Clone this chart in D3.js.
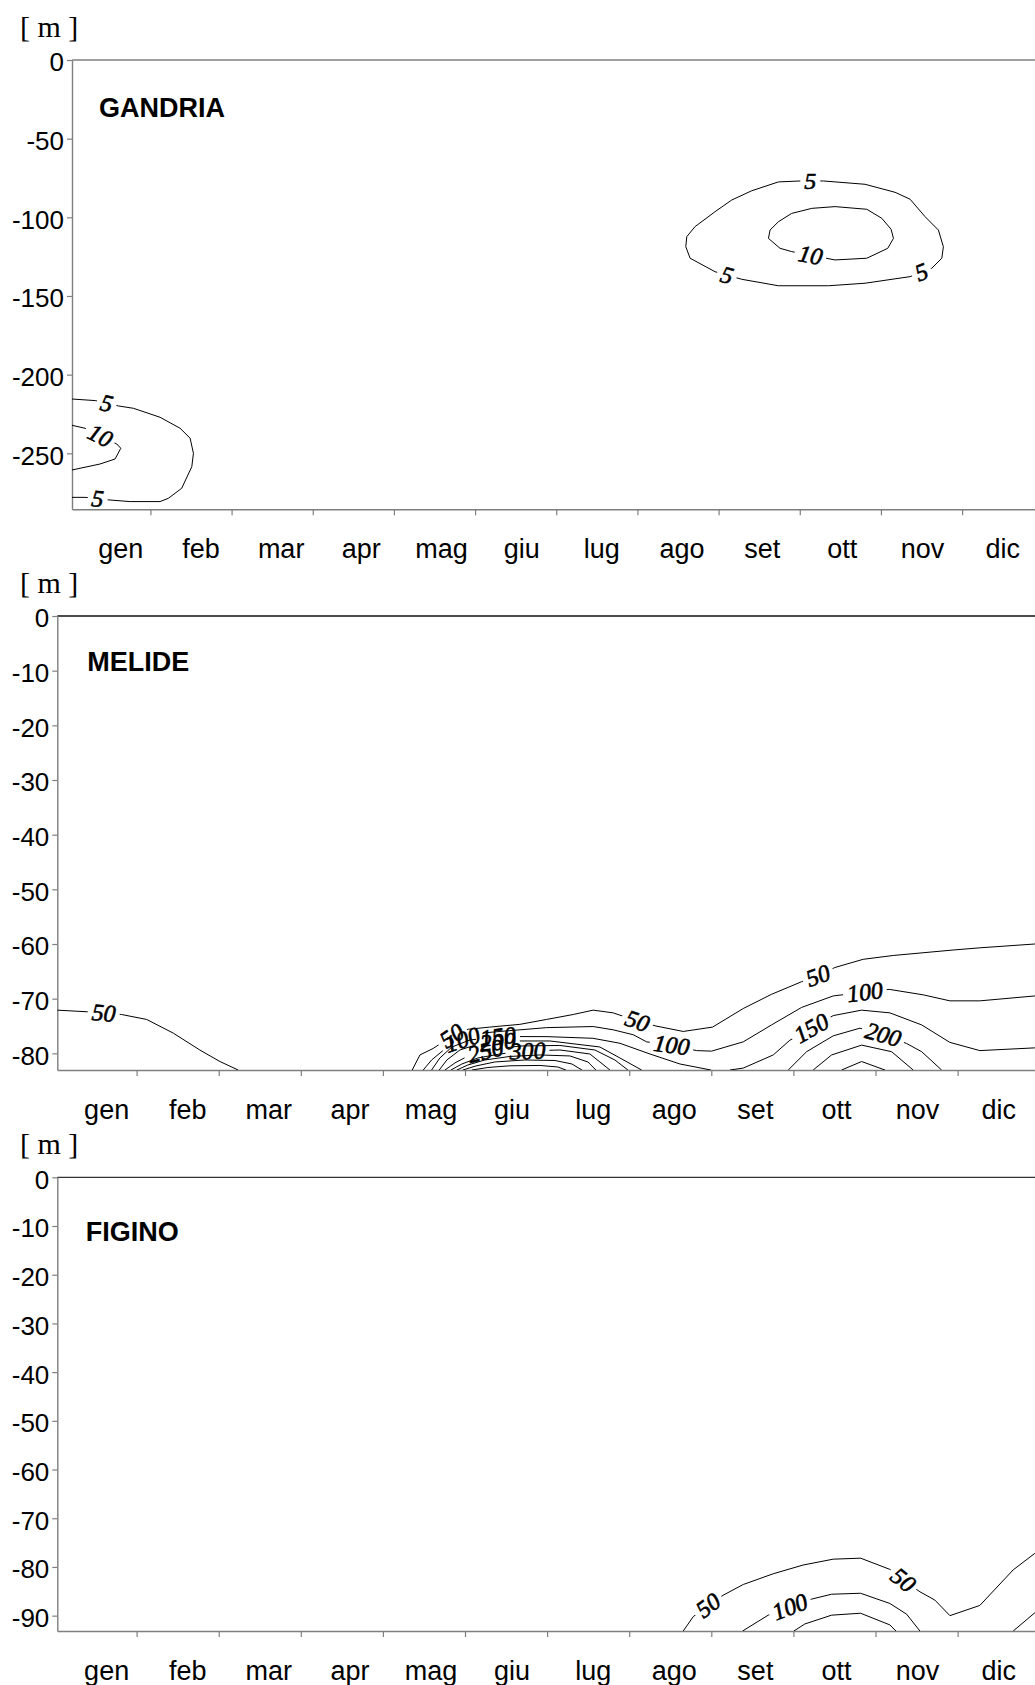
<!DOCTYPE html>
<html>
<head>
<meta charset="utf-8">
<script src="https://cdn.jsdelivr.net/npm/d3@7"></script>
<style>
  body { margin: 0; background: #fff; }
  svg { display: block; }
</style>
</head>
<body>
<svg id="chart" width="1035" height="1685"></svg>
<script>
// ---- data -------------------------------------------------------------
// Month labels of the time axis (month 0 = 1 January, 12 = 31 December)
const months = ["gen", "feb", "mar", "apr", "mag", "giu", "lug", "ago", "set", "ott", "nov", "dic"];
const monthBoundaries = [1, 2, 3, 4, 5, 6, 7, 8, 9, 10, 11];

// Depth ticks [m] of each station
const gandriaTicks = [0, -50, -100, -150, -200, -250];
const melideTicks = [0, -10, -20, -30, -40, -50, -60, -70, -80];
const figinoTicks = [0, -10, -20, -30, -40, -50, -60, -70, -80, -90];

// Bottom depth [m] at each station
const gandriaDepth = -285.6;
const melideDepth = -83.05;
const figinoDepth = -93.15;

// Isolines: level, vertices [month, depth], label anchors [month, depth]
const gandriaLines = [
  { level: 5,
    points: [[7.596,-118.7],[7.608,-112.3],[7.710,-105.9],[7.957,-96.4],[8.162,-89.0],[8.409,-83.1],[8.737,-77.5],[9.004,-76.9],[9.291,-76.9],[9.804,-79.0],[10.174,-84.1],[10.359,-88.5],[10.544,-99.6],[10.708,-108.1],[10.769,-118.7],[10.750,-126.0],[10.626,-132.4],[10.359,-137.7],[9.804,-141.9],[9.353,-143.5],[8.737,-143.5],[8.286,-139.4],[7.957,-134.6],[7.649,-126.0],[7.596,-118.7]],
    labels: [[9.13,-77.0],[8.10,-137.0],[10.50,-135.0]] },
  { level: 10,
    points: [[8.614,-113.4],[8.634,-108.1],[8.737,-102.8],[8.901,-97.5],[9.148,-94.3],[9.435,-93.2],[9.826,-94.9],[10.010,-100.6],[10.125,-107.6],[10.154,-113.4],[10.084,-119.7],[9.826,-126.0],[9.435,-127.1],[8.901,-121.8],[8.757,-119.7],[8.614,-113.4]],
    labels: [[9.13,-124.5]] },
  { level: 5,
    points: [[0.034,-215.5],[0.32,-216.5],[0.606,-219.9],[0.791,-221.4],[1.119,-227.1],[1.366,-234.1],[1.489,-240.4],[1.530,-250.0],[1.510,-258.5],[1.386,-272.2],[1.222,-278.6],[1.119,-280.7],[0.750,-280.7],[0.503,-279.7],[0.195,-278.0],[0.034,-278.0]],
    labels: [[0.46,-218.5],[0.35,-279.0]] },
  { level: 10,
    points: [[0.034,-232.2],[0.195,-234.1],[0.586,-244.1],[0.635,-246.8],[0.565,-253.6],[0.380,-256.8],[0.034,-260.6]],
    labels: [[0.38,-239.0]] }
];

const melideLines = [
  { level: 50,
    points: [[0.033,-72.1],[0.398,-72.4],[0.817,-72.9],[1.122,-73.8],[1.446,-76.3],[1.771,-79.4],[2.015,-81.5],[2.237,-83.05]],
    labels: [[0.60,-72.6]] },
  { level: 50,
    points: [[4.357,-83.05],[4.451,-80.3],[4.613,-79.1],[4.84,-76.8],[5.039,-75.6],[5.303,-75.2],[5.668,-74.7],[5.994,-73.8],[6.318,-72.9],[6.561,-72.1],[6.805,-72.6],[7.100,-74.1],[7.325,-75.0],[7.658,-76.0],[8.016,-75.2],[8.389,-71.8],[8.734,-69.2],[9.100,-66.9],[9.302,-65.8],[9.505,-64.3],[9.850,-62.8],[10.216,-62.1],[10.946,-61.1],[11.271,-60.7],[11.941,-60.0],[12,-59.9]],
    labels: [[4.84,-76.8],[7.10,-74.1],[9.30,-65.8]] },
  { level: 100,
    points: [[4.491,-83.05],[4.593,-81.22],[4.755,-79.2],[4.95,-77.6],[5.218,-76.28],[5.425,-76.0],[5.994,-75.3],[6.561,-75.1],[6.805,-75.7],[7.049,-76.6],[7.212,-77.9],[7.516,-78.5],[7.821,-79.5],[8.003,-79.6],[8.389,-77.9],[8.734,-74.8],[9.100,-71.6],[9.485,-69.5],[9.871,-68.8],[10.167,-68.3],[10.581,-69.3],[10.906,-70.4],[11.271,-70.4],[11.941,-69.5],[12,-69.4]],
    labels: [[4.97,-77.6],[7.516,-78.5],[9.871,-68.8]] },
  { level: 150,
    points: [[4.593,-83.05],[4.694,-80.85],[4.840,-78.84],[5.060,-77.56],[5.425,-76.92],[5.998,-76.95],[6.558,-77.25],[6.887,-78.16],[7.252,-80.12],[7.618,-81.95],[7.995,-83.05]],
    labels: [[5.40,-76.95]] },
  { level: 200,
    points: [[4.686,-83.05],[4.779,-81.22],[4.938,-79.39],[5.182,-78.2],[5.547,-77.74],[6.034,-77.74],[6.643,-78.84],[6.887,-80.85],[7.151,-83.05]],
    labels: [[5.40,-77.9]] },
  { level: 250,
    points: [[4.755,-83.05],[4.877,-81.76],[5.060,-80.30],[5.303,-79.39],[5.668,-78.66],[6.156,-78.56],[6.582,-79.39],[6.826,-81.22],[6.984,-83.05]],
    labels: [[5.25,-79.6]] },
  { level: 300,
    points: [[4.828,-83.05],[4.962,-81.95],[5.157,-80.85],[5.425,-80.12],[5.754,-79.57],[6.156,-79.39],[6.521,-80.12],[6.643,-81.58],[6.765,-83.05]],
    labels: [[5.76,-79.6]] },
  { level: 350,
    points: [[4.901,-83.05],[5.035,-82.13],[5.242,-81.22],[5.547,-80.57],[5.912,-80.30],[6.278,-80.48],[6.497,-81.58],[6.594,-83.05]],
    labels: [] },
  { level: 400,
    points: [[4.974,-83.05],[5.133,-82.31],[5.364,-81.58],[5.730,-81.22],[6.095,-81.31],[6.302,-81.95],[6.424,-83.05]],
    labels: [] },
  { level: 450,
    points: [[5.084,-83.05],[5.279,-82.59],[5.547,-82.28],[5.912,-82.22],[6.131,-82.50],[6.229,-83.05]],
    labels: [] },
  { level: 150,
    points: [[8.227,-83.05],[8.389,-82.7],[8.754,-80.3],[8.957,-77.6],[9.221,-75.4],[9.485,-73.1],[9.831,-72.1],[10.175,-72.6],[10.562,-74.8],[10.906,-78.0],[11.271,-79.5],[11.941,-79.0],[12,-78.95]],
    labels: [[9.22,-75.4]] },
  { level: 200,
    points: [[8.937,-83.05],[9.161,-79.7],[9.485,-76.8],[9.810,-75.4],[10.094,-76.6],[10.379,-78.2],[10.562,-79.7],[10.805,-83.05]],
    labels: [[10.094,-76.6]] },
  { level: 250,
    points: [[9.241,-83.05],[9.465,-80.3],[9.831,-78.5],[10.196,-79.7],[10.459,-83.05]],
    labels: [] },
  { level: 300,
    points: [[9.587,-83.05],[9.831,-81.5],[10.115,-83.05]],
    labels: [] }
];

const figinoLines = [
  { level: 50,
    points: [[7.658,-93.15],[7.780,-90.2],[7.962,-87.9],[8.145,-85.8],[8.389,-83.6],[8.754,-81.4],[9.119,-79.6],[9.485,-78.4],[9.819,-78.2],[10.175,-80.5],[10.337,-82.7],[10.541,-85.1],[10.723,-86.8],[10.906,-90.0],[11.271,-87.9],[11.677,-80.6],[11.941,-77.2],[12,-76.5]],
    labels: [[7.962,-87.9],[10.337,-82.7]] },
  { level: 100,
    points: [[8.381,-93.15],[8.693,-89.9],[8.957,-88.2],[9.222,-86.6],[9.465,-85.6],[9.818,-85.4],[10.175,-87.5],[10.379,-89.7],[10.541,-93.15]],
    labels: [[8.957,-88.2]] },
  { level: 100,
    points: [[11.677,-93.15],[11.941,-89.4],[12,-88.6]],
    labels: [] },
  { level: 150,
    points: [[9.006,-93.15],[9.140,-91.7],[9.465,-89.9],[9.818,-89.5],[10.175,-91.9],[10.249,-93.15]],
    labels: [] }
];

// ---- layout -----------------------------------------------------------
const MONTH_START = 0.034;
const panels = [
  { id: "gandria", title: "GANDRIA", lines: gandriaLines, ticks: gandriaTicks, depth: gandriaDepth,
    left: 72, top: 60, bottom: 509.3, monthWidth: 81.17, titleX: 99, titleY: 117.3, topColor: "#7f7f7f" },
  { id: "melide", title: "MELIDE", lines: melideLines, ticks: melideTicks, depth: melideDepth,
    left: 57.3, top: 616, bottom: 1070, monthWidth: 82.1, titleX: 87.3, titleY: 670.7, topColor: "#111" },
  { id: "figino", title: "FIGINO", lines: figinoLines, ticks: figinoTicks, depth: figinoDepth,
    left: 57.3, top: 1177.3, bottom: 1631, monthWidth: 82.1, titleX: 85.7, titleY: 1240.7, topColor: "#333" }
];

const W = 1035, H = 1685;
const AXIS_COLOR = "#7f7f7f";
const SANS = "'Liberation Sans', Arial, Helvetica, sans-serif";
const SERIF = "'Liberation Serif', 'Times New Roman', Times, serif";

const svg = d3.select("#chart");
const defs = svg.append("defs");

// month labels sit on a slightly tighter grid than the month boundaries
const labelMonth = d3.scaleLinear().domain([0, 11]).range([0.635, 11.5]);

// nearest point and direction of a polyline to a given point (pixels)
function placeOnLine(pts, p) {
  let best = null;
  for (let i = 0; i < pts.length - 1; i++) {
    const [x1, y1] = pts[i], [x2, y2] = pts[i + 1];
    const dx = x2 - x1, dy = y2 - y1;
    const len2 = dx * dx + dy * dy || 1;
    let t = ((p[0] - x1) * dx + (p[1] - y1) * dy) / len2;
    t = Math.max(0, Math.min(1, t));
    const qx = x1 + t * dx, qy = y1 + t * dy;
    const d = (qx - p[0]) ** 2 + (qy - p[1]) ** 2;
    if (!best || d < best.d) {
      let ang = Math.atan2(dy, dx) * 180 / Math.PI;
      if (ang > 90) ang -= 180;
      if (ang < -90) ang += 180;
      best = { d, x: qx, y: qy, ang };
    }
  }
  return best;
}

panels.forEach(p => {
  const x = d3.scaleLinear()
    .domain([MONTH_START, 12])
    .range([p.left, p.left + (12 - MONTH_START) * p.monthWidth]);
  const y = d3.scaleLinear().domain([0, p.depth]).range([p.top, p.bottom]);

  const g = svg.append("g").attr("class", "panel " + p.id);

  // plot clip
  defs.append("clipPath").attr("id", "clip-" + p.id)
    .append("rect")
    .attr("x", p.left).attr("y", p.top)
    .attr("width", W - p.left).attr("height", p.bottom - p.top);

  // unit label
  g.append("text")
    .attr("x", 20).attr("y", p.top - 23)
    .attr("font-family", SERIF).attr("font-size", 30)
    .attr("fill", "#000")
    .text("[ m ]");

  // surface line
  g.append("line")
    .attr("x1", x(MONTH_START)).attr("x2", x(12))
    .attr("y1", y(0)).attr("y2", y(0))
    .attr("stroke", p.topColor).attr("stroke-width", 1.3);

  // depth axis
  const yAxis = d3.axisLeft(y)
    .tickValues(p.ticks)
    .tickSize(5).tickSizeOuter(0).tickPadding(3)
    .tickFormat(d => String(d));
  const ya = g.append("g").attr("transform", `translate(${p.left},0)`).call(yAxis);
  ya.select(".domain").attr("stroke", AXIS_COLOR).attr("stroke-width", 1.4);
  ya.selectAll(".tick line").attr("stroke", AXIS_COLOR).attr("stroke-width", 1.2);
  ya.selectAll(".tick text")
    .attr("font-family", SANS).attr("font-size", 26).attr("fill", "#000")
    .attr("dy", "0.42em");

  // time axis
  const xAxis = d3.axisBottom(x)
    .tickValues(monthBoundaries)
    .tickSize(6).tickSizeOuter(0)
    .tickFormat("");
  const xa = g.append("g").attr("transform", `translate(0,${p.bottom})`).call(xAxis);
  xa.select(".domain").attr("stroke", AXIS_COLOR).attr("stroke-width", 1.4);
  xa.selectAll(".tick line").attr("stroke", AXIS_COLOR).attr("stroke-width", 1.2);

  g.append("g").selectAll("text")
    .data(months)
    .join("text")
    .attr("x", (d, i) => x(labelMonth(i)))
    .attr("y", p.bottom + 49)
    .attr("text-anchor", "middle")
    .attr("font-family", SANS).attr("font-size", 27).attr("fill", "#000")
    .text(d => d);

  // station name
  g.append("text")
    .attr("x", p.titleX).attr("y", p.titleY)
    .attr("font-family", SANS).attr("font-size", 27).attr("font-weight", "bold")
    .attr("fill", "#000")
    .text(p.title);

  // isolines with inline labels
  const plot = g.append("g").attr("clip-path", `url(#clip-${p.id})`);
  const lineGen = d3.line().x(d => x(d[0])).y(d => y(d[1])).curve(d3.curveLinear);
  const labelLayer = g.append("g");

  p.lines.forEach((ln, li) => {
    const px = ln.points.map(d => [x(d[0]), y(d[1])]);
    const maskId = `mask-${p.id}-${li}`;
    const mask = defs.append("mask").attr("id", maskId)
      .attr("maskUnits", "userSpaceOnUse")
      .attr("x", 0).attr("y", 0).attr("width", W).attr("height", H);
    mask.append("rect").attr("x", 0).attr("y", 0).attr("width", W).attr("height", H).attr("fill", "#fff");

    ln.labels.forEach(lab => {
      const pos = placeOnLine(px, [x(lab[0]), y(lab[1])]);
      const t = labelLayer.append("text")
        .attr("transform", `translate(${pos.x},${pos.y}) rotate(${pos.ang})`)
        .attr("text-anchor", "middle")
        .attr("dominant-baseline", "central")
        .attr("font-family", SERIF).attr("font-style", "italic").attr("font-size", 24)
        .attr("fill", "#000")
        .attr("stroke", "#000").attr("stroke-width", 0.6)
        .text(ln.level);
      const tw = t.node().getComputedTextLength();
      mask.append("rect")
        .attr("x", -tw / 2 - 4).attr("y", -9)
        .attr("width", tw + 8).attr("height", 18)
        .attr("transform", `translate(${pos.x},${pos.y}) rotate(${pos.ang})`)
        .attr("fill", "#000");
    });

    plot.append("path")
      .attr("d", lineGen(ln.points))
      .attr("fill", "none")
      .attr("stroke", "#000")
      .attr("stroke-width", 1)
      .attr("mask", `url(#${maskId})`);
  });
});
</script>
</body>
</html>
